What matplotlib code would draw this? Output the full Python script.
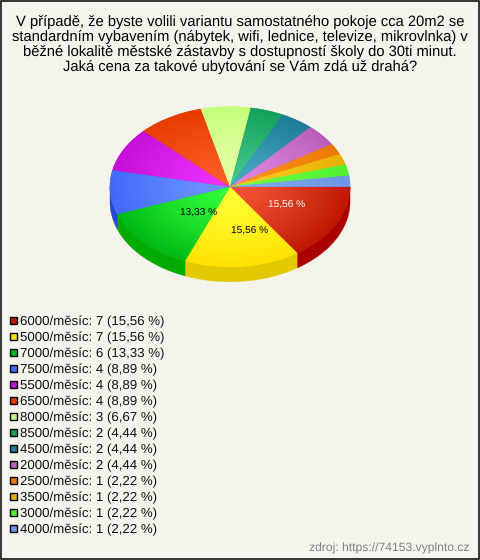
import numpy as np
import matplotlib
matplotlib.use("Agg")
import matplotlib.pyplot as plt
from matplotlib.patches import Rectangle, Polygon

title_lines = [
    "V případě, že byste volili variantu samostatného pokoje cca 20m2 se",
    "standardním vybavením (nábytek, wifi, lednice, televize, mikrovlnka) v",
    "běžné lokalitě městské zástavby s dostupností školy do 30ti minut.",
    "Jaká cena za takové ubytování se Vám zdá už drahá?",
]
categories = ["6000/měsíc", "5000/měsíc", "7000/měsíc", "7500/měsíc", "5500/měsíc",
              "6500/měsíc", "8000/měsíc", "8500/měsíc", "4500/měsíc", "2000/měsíc",
              "2500/měsíc", "3500/měsíc", "3000/měsíc", "4000/měsíc"]
counts = [7, 7, 6, 4, 4, 4, 3, 2, 2, 2, 1, 1, 1, 1]
percents = ["15,56", "15,56", "13,33", "8,89", "8,89", "8,89", "6,67",
            "4,44", "4,44", "4,44", "2,22", "2,22", "2,22", "2,22"]
light = [(245, 85, 55), (255, 255, 55), (50, 255, 60), (110, 150, 255), (240, 50, 255),
         (255, 95, 40), (235, 255, 170), (70, 200, 140), (75, 170, 195), (225, 135, 230),
         (255, 150, 30), (255, 205, 40), (110, 255, 70), (130, 170, 245)]
dark = [(190, 25, 0), (255, 225, 0), (0, 185, 20), (65, 105, 250), (195, 15, 215),
        (230, 60, 0), (195, 255, 120), (20, 160, 90), (30, 125, 150), (185, 95, 185),
        (235, 120, 0), (230, 175, 0), (80, 240, 50), (110, 150, 230)]
side = [(170, 0, 0), (225, 200, 0), (0, 170, 0), (40, 70, 210)]
label_colors = ["white", "black", "black"]
label_pos = [(287, 205), (250, 231), (199, 213)]
source = "zdroj: https://74153.vyplnto.cz"

plt.rcParams["font.family"] = ["Liberation Sans", "DejaVu Sans"]
plt.rcParams["text.hinting"] = "none"
plt.rcParams["text.hinting_factor"] = 8
BG = "#f5f4ec"
W, H = 480, 560
cx, cy, rx, ry, depth = 230, 186.7, 120, 80, 15


def c(t):
    return tuple(v / 255 for v in t)


fig = plt.figure(figsize=(W / 100, H / 100), dpi=100, facecolor=BG)
ax = fig.add_axes([0, 0, 1, 1])
ax.set_xlim(0, W)
ax.set_ylim(H, 0)
ax.axis("off")

ax.add_patch(Rectangle((0.5, 0.5), W - 1.5, H - 1.5, fc="none", ec="black", lw=1.1, zorder=10))

for i, line in enumerate(title_lines):
    ax.text(240, 25.5 + i * 15, line, ha="center", va="baseline", fontsize=10.62, color="black")

total = sum(counts)
edges = np.cumsum([0] + counts) / total * 2 * np.pi


def arc(a0, a1, n=80):
    t = np.linspace(a0, a1, n)
    return cx + rx * np.cos(t), cy + ry * np.sin(t)


# side wall
for i in range(len(counts)):
    a0, a1 = edges[i], min(edges[i + 1], np.pi)
    if a0 >= np.pi:
        continue
    x, y = arc(a0, a1)
    pts = np.r_[np.c_[x, y], np.c_[x[::-1], y[::-1] + depth]]
    ax.add_patch(Polygon(pts, fc=c(side[i]), ec=c(side[i]), lw=0.3, zorder=2))

# top face with radial shading
xx, yy = np.meshgrid(np.arange(W) + 0.5, np.arange(H) + 0.5)
rr = (np.clip(np.hypot((xx - cx) / rx, (yy - cy) / ry), 0, 1) ** 1.3)[..., None]
for i in range(len(counts)):
    x, y = arc(edges[i], edges[i + 1])
    pts = np.r_[[[cx, cy]], np.c_[x, y]]
    poly = Polygon(pts, fc=c(dark[i]), ec=c(dark[i]), lw=0.4, zorder=3)
    ax.add_patch(poly)
    img = np.array(c(light[i])) * (1 - rr) + np.array(c(dark[i])) * rr
    im = ax.imshow(img, extent=(0, W, H, 0), zorder=4, aspect="auto", interpolation="nearest")
    im.set_clip_path(poly)
ax.set_xlim(0, W)
ax.set_ylim(H, 0)

for i, (px, py) in enumerate(label_pos):
    ax.text(px, py, f"{percents[i]} %", ha="center", va="center", fontsize=7.3,
            color=label_colors[i], zorder=6)

# legend
for i, cat in enumerate(categories):
    y = 320 + i * 16
    ax.add_patch(Rectangle((9.5, y - 3.5), 7.5, 7.5, fc=c(dark[i]), ec="black", lw=1, zorder=5))
    ax.text(20, y + 5.3, f"{cat}: {counts[i]} ({percents[i]} %)", ha="left", va="baseline",
            fontsize=9.55, color="#111111")

ax.text(470, 551.5, source, ha="right", va="baseline", fontsize=8.75, color="#808080")

fig.savefig("out.png", dpi=100, facecolor=BG)
